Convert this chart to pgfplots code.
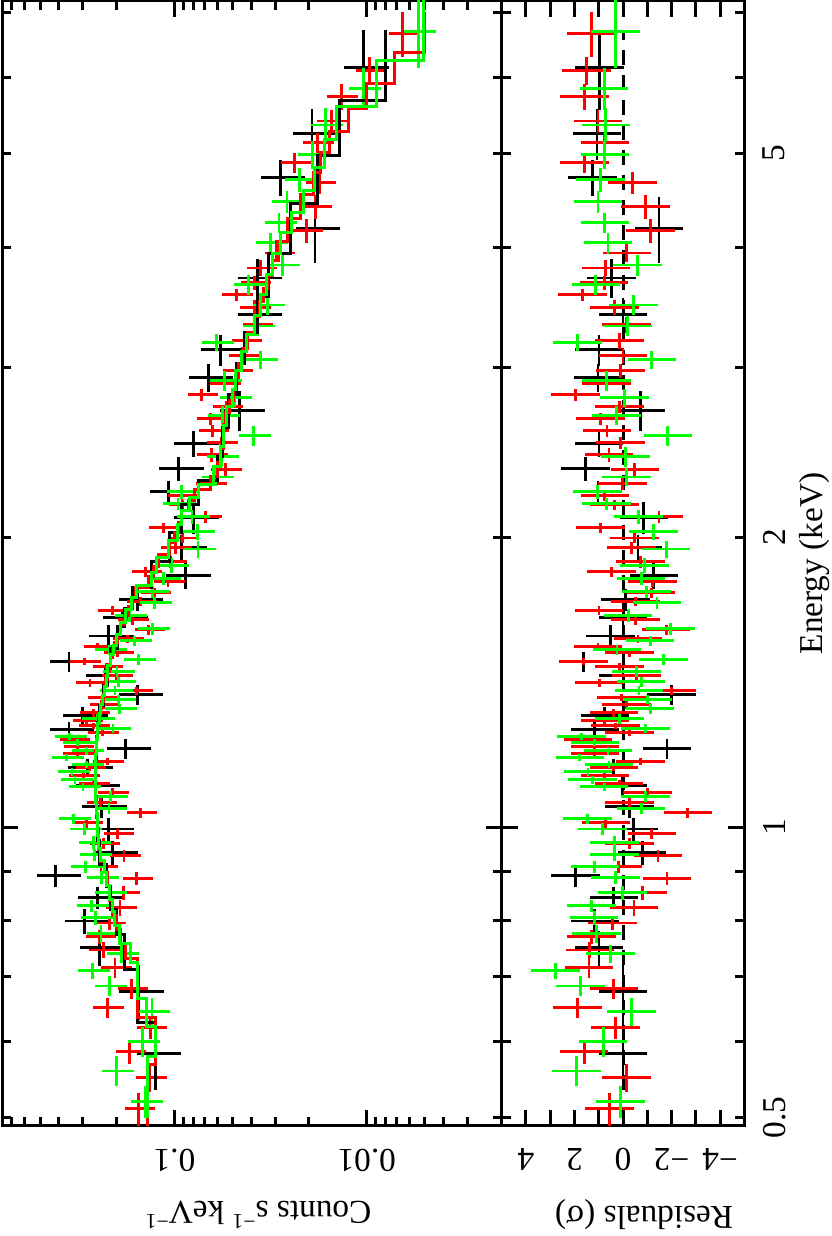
\documentclass[border=0pt]{standalone}
\usepackage{graphicx}
\usepackage{fontspec}
\setmainfont{Liberation Serif}
\usepackage{pgfplots}
\usepackage{pgfplotstable}
\usetikzlibrary{calc}
\pgfplotsset{compat=1.18}
\definecolor{xred}{RGB}{255,0,0}
\definecolor{xgreen}{RGB}{0,255,0}
\newcommand{\supx}[1]{\raisebox{0.9ex}{\fontsize{6.5}{7}\selectfont #1}}

% E = bin centre (keV), dE = half width, c = counts/s/keV, r = residual (sigma), m = model
\pgfplotstableread{
E dE c r m
0.534 0 nan nan 0.125
0.583 0.049 0.125 0.00 0.125
0.6755 0.0445 0.154 0.00 0.155
0.7499 0.0311 0.245 0.99 0.182
0.7998 0.0238 0.295 1.16 0.200
0.8451 0.0227 0.2515 0.38 0.214
0.8906 0.0240 0.414 1.96 0.227
0.9409 0.0264 0.210 -0.79 0.245
0.9963 0.0273 0.220 -0.44 0.250
1.0502 0.0270 0.240 -0.27 0.254
1.1042 0.0256 0.259 0.03 0.257
1.1526 0.0255 0.283 0.38 0.257
1.2062 0.0275 0.179 -1.81 0.254
1.2625 0.0248 0.354 1.16 0.250
1.3053 0.0275 0.300 0.75 0.245
1.3724 0.0328 0.155 -2.00 0.234
1.4363 0.0282 0.230 0.00 0.224
1.4851 0.0359 0.354 1.62 0.215
1.5797 0.0412 0.220 0.52 0.197
1.6498 0.0356 0.186 0.00 0.181
1.7219 0.0435 0.155 -0.11 0.165
1.8236 0.0570 0.0877 -1.27 0.131
1.9498 0.0600 0.092 -0.62 0.106
2.0947 0.0800 0.0797 -0.86 0.0925
2.2288 0.0600 0.107 1.03 0.075
2.3547 0.0700 0.0954 1.55 0.060
2.4994 0.0800 0.0797 0.99 0.056
2.7044 0.1300 0.046 -0.71 0.0527
2.9263 0.0950 0.0667 1.03 0.0477
3.1290 0.1150 0.0578 0.99 0.0435
3.4017 0.1400 0.0372 0.00 0.037
3.7154 0.1700 0.0372 0.48 0.0324
4.1776 0.3300 0.0186 -1.48 0.0250
4.7186 0.2050 0.0282 1.26 0.0180
5.2409 0.3150 0.0193 1.07 0.0138
6.1372 0.5850 0.0104 0.96 0.0080
6.722 0 nan nan 0.0080
}\blacktab

\pgfplotstableread{
E dE c r m
0.4905 0 nan nan 0.138
0.5105 0.020 0.154 0.55 0.138
0.5497 0.0186 0.134 -0.14 0.138
0.5850 0.0174 0.171 1.60 0.125
0.6194 0.0162 0.133 0.30 0.125
0.6499 0.0152 0.224 1.88 0.155
0.6801 0.0163 0.167 0.38 0.155
0.7151 0.0166 0.204 1.40 0.155
0.7463 0.0137 0.235 1.37 0.180
0.7700 0.0124 0.245 1.30 0.190
0.7959 0.0138 0.218 0.44 0.200
0.8250 0.0149 0.192 -0.45 0.210
0.8553 0.0148 0.185 -0.82 0.217
0.8843 0.0137 0.157 -1.81 0.224
0.9100 0.0125 0.241 0.20 0.232
0.9342 0.0129 0.183 -1.44 0.243
0.9614 0.0126 0.234 -0.27 0.247
0.9845 0.0124 0.197 -1.19 0.249
1.0108 0.0127 0.288 0.71 0.251
1.0352 0.0124 0.150 -2.67 0.253
1.0602 0.0127 0.242 -0.27 0.255
1.0859 0.0123 0.211 -1.00 0.257
1.1094 0.0112 0.265 0.16 0.257
1.1308 0.0108 0.298 0.75 0.257
1.1526 0.0097 0.277 0.38 0.257
1.1695 0.0099 0.224 -0.71 0.257
1.1920 0.0106 0.321 1.16 0.256
1.2120 0.0101 0.319 1.16 0.254
1.2325 0.0103 0.335 1.44 0.253
1.2533 0.0105 0.238 -0.27 0.251
1.2744 0.0091 0.265 0.30 0.250
1.2897 0.0101 0.287 0.75 0.248
1.3146 0.0126 0.263 0.38 0.244
1.3400 0.0120 0.233 -0.14 0.239
1.3627 0.0114 0.238 0.07 0.235
1.3856 0.0124 0.157 -2.00 0.232
1.4124 0.0127 0.275 0.96 0.228
1.4363 0.0138 0.201 -0.55 0.224
1.4674 0.0122 0.225 0.14 0.219
1.4851 0.0124 0.295 1.62 0.215
1.5171 0.0136 0.198 -0.27 0.209
1.5393 0.0130 0.251 1.03 0.205
1.5690 0.0159 0.176 -0.62 0.199
1.6030 0.0182 0.136 -1.78 0.192
1.6418 0.0186 0.166 -0.51 0.183
1.6773 0.0181 0.211 0.99 0.174
1.7140 0.0185 0.150 -0.52 0.166
1.7512 0.0209 0.127 -1.16 0.159
1.7977 0.0225 0.108 -1.21 0.137
1.8413 0.0220 0.141 0.48 0.128
1.8857 0.0271 0.105 -0.73 0.121
1.9498 0.0278 0.0992 -0.34 0.106
1.9968 0.0238 0.0910 -0.48 0.100
2.0451 0.0257 0.1146 0.93 0.0955
2.0995 0.0289 0.0689 -1.48 0.092
2.1608 0.0271 0.0909 0.34 0.085
2.2077 0.0277 0.0915 0.75 0.079
2.2716 0.0354 0.0654 0.03 0.065
2.3493 0.0408 0.0545 -0.49 0.060
2.4347 0.0391 0.0644 0.58 0.0575
2.5056 0.0359 0.0571 0.11 0.0559
2.5783 0.0370 0.0634 0.66 0.0557
2.6534 0.0381 0.0648 0.93 0.054
2.7307 0.0392 0.0535 0.14 0.052
2.8100 0.0386 0.0725 1.96 0.0494
2.8851 0.0415 0.0552 0.68 0.0483
2.9760 0.0498 0.0477 0.11 0.0467
3.0842 0.0552 0.0444 0.00 0.0444
3.1966 0.0593 0.0428 0.14 0.0416
3.3212 0.0656 0.0373 -0.14 0.0383
3.4588 0.0617 0.0385 0.34 0.0360
3.5680 0.0532 0.0478 1.68 0.0344
3.6715 0.0594 0.0384 0.78 0.0330
3.8055 0.0683 0.0357 0.71 0.0311
3.9446 0.0880 0.0287 -0.16 0.0296
4.1573 0.1147 0.0206 -1.14 0.0258
4.4032 0.1265 0.0185 -0.93 0.0222
4.6632 0.1219 0.0176 -0.38 0.0190
4.8908 0.1167 0.0238 1.58 0.0175
5.1299 0.1285 0.0181 0.75 0.0156
5.4048 0.1493 0.0153 1.03 0.0125
5.7269 0.1729 0.0136 1.58 0.0100
6.0964 0.205 0.0097 1.50 0.0072
6.6600 0.355 0.0065 1.30 0.0050
7.015 0 nan nan 0.0050
}\redtab

\pgfplotstableread{
E dE c r m
0.499 0 nan nan 0.138
0.5191 0.0199 0.141 0.10 0.138
0.5589 0.0200 0.201 1.92 0.138
0.5991 0.0212 0.147 0.82 0.125
0.6438 0.0214 0.131 -0.34 0.140
0.6846 0.0166 0.218 1.75 0.155
0.7100 0.0137 0.267 2.78 0.155
0.7393 0.0164 0.188 0.52 0.170
0.7755 0.0166 0.241 1.10 0.194
0.8056 0.0134 0.257 1.19 0.204
0.8290 0.0124 0.271 1.30 0.210
0.8553 0.0143 0.218 0.03 0.217
0.8863 0.0137 0.239 0.30 0.225
0.9100 0.0126 0.291 1.16 0.232
0.9365 0.0134 0.260 0.34 0.243
0.9636 0.0150 0.264 0.34 0.247
0.9963 0.0142 0.295 0.85 0.250
1.0205 0.0122 0.336 1.47 0.252
1.0452 0.0138 0.219 -0.75 0.254
1.0755 0.0141 0.215 -0.92 0.257
1.1015 0.0112 0.299 0.78 0.257
1.1201 0.0101 0.329 1.26 0.257
1.1418 0.0103 0.341 1.44 0.257
1.1612 0.0098 0.288 0.58 0.257
1.1808 0.0099 0.364 1.78 0.257
1.2007 0.0108 0.288 0.62 0.255
1.2239 0.0102 0.318 1.16 0.253
1.2416 0.0104 0.352 1.71 0.252
1.2655 0.0136 0.209 -0.92 0.250
1.2961 0.0155 0.253 0.14 0.246
1.3274 0.0150 0.194 -1.12 0.242
1.3562 0.0146 0.195 -1.00 0.237
1.3856 0.0149 0.204 -0.66 0.232
1.4158 0.0161 0.196 -0.75 0.227
1.4499 0.0191 0.199 -0.55 0.222
1.4923 0.0196 0.154 -1.67 0.214
1.5283 0.0174 0.217 0.25 0.207
1.5617 0.0197 0.161 -1.12 0.200
1.6069 0.0240 0.130 -1.96 0.191
1.6576 0.0258 0.172 -0.21 0.179
1.7100 0.0244 0.127 -1.40 0.167
1.7553 0.0252 0.130 -0.96 0.157
1.8108 0.0282 0.114 -0.75 0.132
1.8680 0.0335 0.104 -0.89 0.124
1.9449 0.0394 0.0755 -1.78 0.107
2.0255 0.0387 0.0758 -1.26 0.097
2.0995 0.0351 0.0811 -0.64 0.092
2.1658 0.0323 0.0960 0.68 0.084
2.2288 0.0360 0.0921 1.05 0.075
2.3096 0.0486 0.0608 -0.14 0.0625
2.4230 0.0598 0.0568 -0.11 0.058
2.5487 0.0625 0.0388 -1.85 0.0558
2.6730 0.0604 0.0564 0.27 0.0535
2.7901 0.0581 0.0490 -0.07 0.0497
2.9054 0.0662 0.0549 0.68 0.048
3.0549 0.0690 0.0356 -1.19 0.045
3.1813 0.0645 0.0607 1.88 0.042
3.3128 0.0755 0.0372 -0.18 0.0385
3.4834 0.0855 0.0327 -0.44 0.0357
3.6547 0.0874 0.0413 1.12 0.0332
3.8331 0.0962 0.0274 -0.59 0.0308
4.0396 0.1011 0.0316 0.62 0.028
4.2375 0.1040 0.0286 0.75 0.0247
4.4557 0.1148 0.0260 1.03 0.0213
4.6967 0.1324 0.0225 0.92 0.0188
4.9852 0.1641 0.0192 0.75 0.0166
5.3529 0.2159 0.0164 0.71 0.0143
5.8400 0.2900 0.0104 0.78 0.0089
6.6900 0.5600 0.0054 0.32 0.0051
7.25 0 nan nan 0.0051
}\greentab

\begin{document}
\rotatebox{90}{%
\begin{tikzpicture}[font=\fontsize{10}{12}\selectfont]
\begin{axis}[name=top, scale only axis, width=337.5pt, height=149.9pt,
  xmode=log, ymode=log, xmin=0.49, xmax=7.2, ymin=0.00199, ymax=0.789,
  xtick={1}, xticklabels={},
  minor xtick={0.6,0.7,0.8,0.9,3,4,6,7},
  extra x ticks={0.5,2,5}, extra x tick labels={},
  extra x tick style={major tick length=2.7pt},
  major tick length=4.8pt, minor tick length=2.7pt,
  tick align=inside,
  axis line style={line width=0.9pt},
  tick style={black, line width=0.9pt},
  yticklabel style={rotate=90, anchor=south, inner sep=0pt},
  yticklabel shift=6.6pt,
  ytick={0.01,0.1}, yticklabels={0.01,0.1},
  minor ytick={0.002,0.003,0.004,0.005,0.006,0.007,0.008,0.009,
    0.02,0.03,0.04,0.05,0.06,0.07,0.08,0.09,0.2,0.3,0.4,0.5,0.6,0.7},
  ylabel={Counts s\supx{−1} keV\supx{−1}},
  ylabel style={at={(axis description cs:-0.079,0.237)}, anchor=west},
]
\addplot[draw=none, mark=none, error bars/.cd, x dir=both, x explicit, y dir=both, y fixed relative=0.26, error mark=none, error bar style={draw=black, line width=0.85pt}] table[x=E, y=c, x error=dE] {\blacktab};
\addplot[draw=none, mark=none, error bars/.cd, x dir=both, x explicit, y dir=both, y fixed relative=0.18, error mark=none, error bar style={draw=xred, line width=0.85pt}] table[x=E, y=c, x error=dE] {\redtab};
\addplot[draw=none, mark=none, error bars/.cd, x dir=both, x explicit, y dir=both, y fixed relative=0.19, error mark=none, error bar style={draw=xgreen, line width=0.85pt}] table[x=E, y=c, x error=dE] {\greentab};
\addplot[black, const plot mark mid, line width=0.9pt, mark=none] table[x=E, y=m] {\blacktab};
\addplot[xred, const plot mark mid, line width=0.9pt, mark=none] table[x=E, y=m] {\redtab};
\addplot[xgreen, const plot mark mid, line width=0.9pt, mark=none] table[x=E, y=m] {\greentab};
\end{axis}

\begin{axis}[name=bot, at={(top.south west)}, anchor=north west,
  scale only axis, width=337.5pt, height=72.8pt,
  xmode=log, xmin=0.49, xmax=7.2, ymin=-5, ymax=5,
  xtick={1}, xticklabels={1},
  minor xtick={0.6,0.7,0.8,0.9,3,4,6,7},
  extra x ticks={0.5,2,5}, extra x tick labels={0.5,2,5},
  extra x tick style={major tick length=2.7pt},
  major tick length=4.8pt, minor tick length=2.7pt,
  tick align=inside,
  axis line style={line width=0.9pt},
  tick style={black, line width=0.9pt},
  xticklabel style={anchor=north, inner sep=0pt, yshift=-5.4pt},
  yticklabel style={rotate=90, anchor=south, inner sep=0pt},
  yticklabel shift=6.6pt,
  ytick={-4,-2,0,2,4}, yticklabels={−4,−2,0,2,4},
  extra y ticks={-3,-1,1,3}, extra y tick labels={},
  xlabel={Energy (keV)},
  xlabel style={at={(axis description cs:0.5,-0.291)}, anchor=center},
  ylabel={Residuals (σ)},
  ylabel style={at={(axis description cs:-0.079,0.413)}, anchor=center},
]
\addplot[black, line width=0.9pt, dash pattern=on 4.5pt off 3pt] coordinates {(0.534,0) (6.72,0)};
\addplot[draw=none, mark=none, error bars/.cd, x dir=both, x explicit, y dir=both, y fixed=1, error mark=none, error bar style={draw=black, line width=0.85pt}] table[x=E, y=r, x error=dE] {\blacktab};
\addplot[draw=none, mark=none, error bars/.cd, x dir=both, x explicit, y dir=both, y fixed=1, error mark=none, error bar style={draw=xred, line width=0.85pt}] table[x=E, y=r, x error=dE] {\redtab};
\addplot[draw=none, mark=none, error bars/.cd, x dir=both, x explicit, y dir=both, y fixed=1, error mark=none, error bar style={draw=xgreen, line width=0.85pt}] table[x=E, y=r, x error=dE] {\greentab};
\end{axis}

\pgfresetboundingbox
\path ($(top.north west)+(-33pt,0.6pt)$) rectangle ($(bot.south east)+(0.3pt,-26pt)$);
\end{tikzpicture}}
\end{document}
